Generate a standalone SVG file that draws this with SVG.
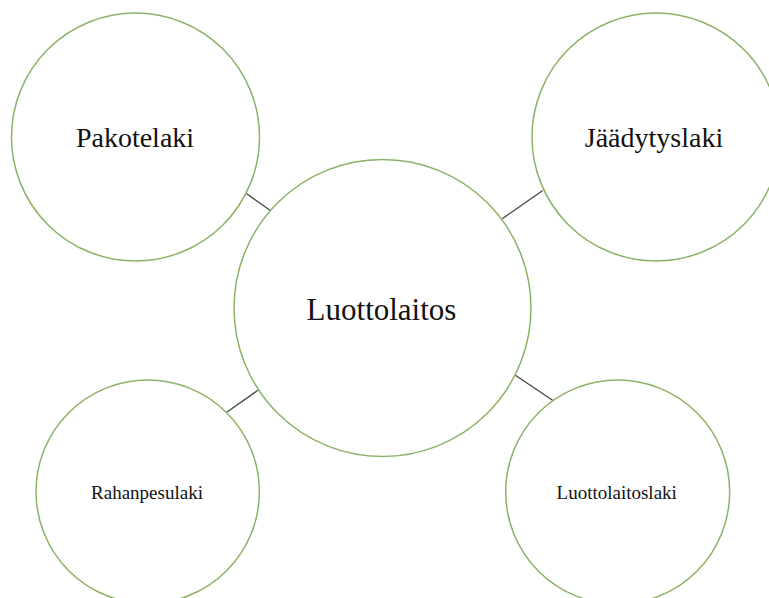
<svg xmlns="http://www.w3.org/2000/svg" width="769" height="598" viewBox="0 0 769 598">
<style>
.node circle{fill:#ffffff;stroke:#8ab365;stroke-width:1.5}
.node text{fill:#111111;text-anchor:middle}
.conn line{stroke:#444444;stroke-width:1.3}
</style>
<rect width="769" height="598" fill="#ffffff"/>
<g class="conn" id="connectors">
<line x1="246" y1="193.3" x2="270.7" y2="210.7"/>
<line x1="502.3" y1="218.7" x2="542.7" y2="190.5"/>
<line x1="226" y1="412.7" x2="258.3" y2="390"/>
<line x1="515" y1="375" x2="553.3" y2="400.7"/>
</g>
<g font-family="Liberation Serif, serif">
<g class="node" id="pakotelaki">
<circle cx="135.5" cy="137" r="124"/>
<text x="135" y="147" font-size="28">Pakotelaki</text>
</g>
<g class="node" id="jaadytyslaki">
<circle cx="656" cy="137" r="124"/>
<text x="654" y="147" font-size="28">Jäädytyslaki</text>
</g>
<g class="node" id="luottolaitos">
<circle cx="382.5" cy="308" r="148.5"/>
<text x="381.5" y="320" font-size="31">Luottolaitos</text>
</g>
<g class="node" id="rahanpesulaki">
<circle cx="147.7" cy="491.7" r="111.7"/>
<text x="147" y="499" font-size="19">Rahanpesulaki</text>
</g>
<g class="node" id="luottolaitoslaki">
<circle cx="617.7" cy="492" r="112"/>
<text x="616.7" y="499" font-size="19">Luottolaitoslaki</text>
</g>
</g>
</svg>
